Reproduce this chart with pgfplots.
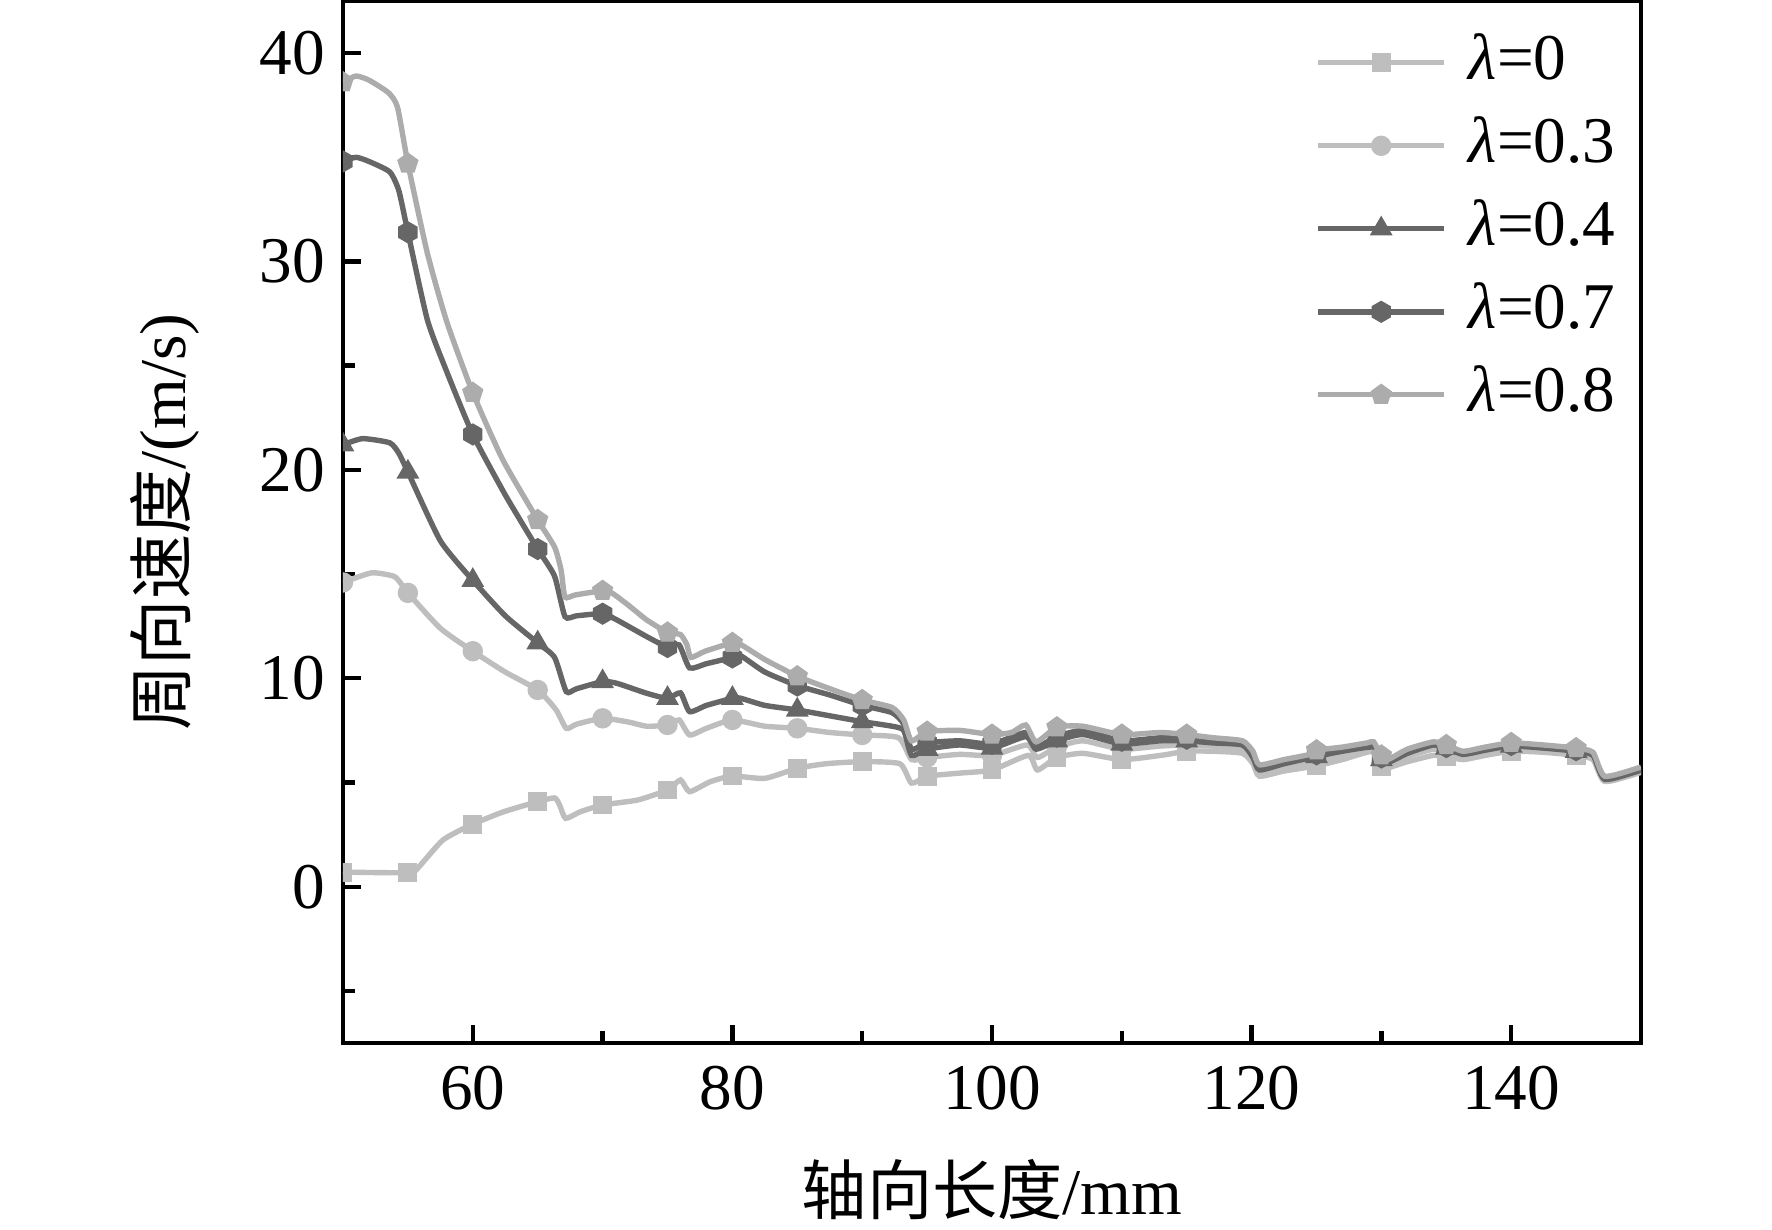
\documentclass[border=0pt]{standalone}
\usepackage{fontspec}
\setmainfont{Liberation Serif}
\newfontfamily\cjk{Noto Sans CJK SC}
\usepackage{pgfplots}
\pgfplotsset{compat=1.18}
\usepackage{pgfplotstable}
\usetikzlibrary{plotmarks}

\pgfdeclareplotmark{hexagon*}{%
  \pgfpathmoveto{\pgfpointpolar{90}{\pgfplotmarksize}}%
  \pgfpathlineto{\pgfpointpolar{150}{\pgfplotmarksize}}%
  \pgfpathlineto{\pgfpointpolar{210}{\pgfplotmarksize}}%
  \pgfpathlineto{\pgfpointpolar{270}{\pgfplotmarksize}}%
  \pgfpathlineto{\pgfpointpolar{330}{\pgfplotmarksize}}%
  \pgfpathlineto{\pgfpointpolar{30}{\pgfplotmarksize}}%
  \pgfpathclose
  \pgfusepathqfillstroke}

\definecolor{lg}{RGB}{190,190,190}
\definecolor{mg}{RGB}{172,172,172}
\definecolor{dg}{RGB}{102,102,102}

% lambda = 0
\pgfplotstableread{
x y
50 0.70
55 0.67
55.7 0.85
57.7 2.24
60 3.00
62.4 3.60
65 4.08
66.3 4.26
66.7 3.90
67.15 3.28
68.3 3.60
70 3.92
72.7 4.16
75 4.64
76 5.12
76.7 4.56
78.3 5.04
80 5.31
82.5 5.20
85 5.68
87.2 5.90
90 6.00
92.9 5.90
93.8 4.97
95 5.30
97.5 5.45
100 5.60
102.8 6.30
103.5 5.60
105 6.20
107 6.40
110 6.10
113 6.30
115 6.50
117 6.50
119.3 6.40
120.1 5.90
120.6 5.30
122.5 5.55
125 5.80
127 6.10
129.4 6.50
130 5.75
130.5 5.70
132 6.00
134 6.30
135 6.25
136.3 6.10
138 6.30
140 6.50
142.5 6.45
145 6.30
146.3 6.10
147.2 5.05
149.8 5.45
150 5.50
}\tA

% lambda = 0.3
\pgfplotstableread{
x y
50 14.60
52.2 15.06
53.9 14.90
54.4 14.60
55 14.10
57.5 12.40
60 11.30
62.5 10.30
65 9.44
66.4 8.50
67.2 7.60
68 7.80
70 8.08
72 7.90
73.4 7.70
75 7.76
75.9 8.00
76.7 7.28
78 7.60
80 8.00
82.5 7.70
85 7.60
87.5 7.40
90 7.28
92.8 7.15
93.8 6.10
95 6.20
97.5 6.35
100 6.30
102.7 6.80
103.5 6.20
105 6.70
107 7.00
110 6.60
113 6.75
115 6.80
117 6.75
119.3 6.60
120.1 6.00
120.6 5.45
122.5 5.75
125 6.00
127 6.30
129.4 6.60
130 5.95
130.5 5.85
132 6.25
134 6.60
135 6.50
136.3 6.25
138 6.45
140 6.65
142.5 6.55
145 6.40
146.3 6.20
147.2 5.10
149.8 5.50
150 5.55
}\tB

% lambda = 0.4
\pgfplotstableread{
x y
50 21.20
51.5 21.50
53.6 21.30
54.3 20.80
55 19.90
57.5 16.60
60 14.70
62.5 13.00
65 11.70
66.3 11.00
67.2 9.36
68 9.50
70 9.84
71.1 9.76
73.4 9.28
75 9.04
76 9.30
76.7 8.40
78 8.70
80 9.04
80.6 9.05
82.5 8.70
85 8.48
87.5 8.20
90 7.92
92.3 7.70
93.2 7.50
93.8 6.30
95 6.60
97.5 6.80
100 6.65
102.6 7.20
103.4 6.60
105 7.00
107 7.30
110 6.85
113 7.00
115 7.00
117 6.90
119.3 6.80
120.1 6.20
120.6 5.60
122.5 5.90
125 6.25
127 6.50
129.4 6.70
130 6.10
130.5 5.95
132 6.40
134 6.80
135 6.65
136.3 6.35
138 6.55
140 6.75
142.5 6.65
145 6.50
146.3 6.30
147.2 5.15
149.8 5.55
150 5.60
}\tC

% lambda = 0.7
\pgfplotstableread{
x y
50 34.80
51 35.00
52 34.80
53.6 34.30
54.3 33.40
55 31.40
56.5 27.20
58 24.70
60 21.70
62.5 18.80
65 16.20
66.3 14.90
67.1 12.96
68 13.00
70 13.10
71.1 12.80
73.4 12.00
75 11.50
75.9 11.60
76.7 10.50
78 10.70
80 11.00
80.6 11.10
82.5 10.30
85 9.65
87.5 9.20
90 8.70
92.3 8.35
93.2 7.80
93.8 6.60
95 6.90
97.5 7.00
100 6.85
102.6 7.40
103.4 6.70
105 7.20
107 7.50
110 7.00
113 7.15
115 7.10
117 7.00
119.3 6.85
120.1 6.30
120.6 5.65
122.5 5.95
125 6.35
127 6.60
129.4 6.80
130 6.20
130.5 6.00
132 6.50
134 6.85
135 6.70
136.3 6.40
138 6.60
140 6.80
142.5 6.70
145 6.55
146.3 6.35
147.2 5.20
149.8 5.60
150 5.65
}\tD

% lambda = 0.8
\pgfplotstableread{
x y
50 38.60
51 38.90
52 38.70
53.5 38.10
54.2 37.40
55 34.70
56.5 30.40
58 27.10
60 23.70
62.3 20.50
65 17.60
66.3 16.30
66.8 15.20
67.1 13.90
67.9 14.00
70 14.20
70.7 14.10
72 13.50
73.4 12.80
75 12.20
76 12.10
76.5 11.60
76.8 11.00
77.9 11.30
80 11.70
80.7 11.60
82.5 10.90
85 10.10
87.5 9.50
90 8.96
92.3 8.60
93.2 8.00
93.8 7.00
95 7.44
97.5 7.50
100 7.30
101.5 7.40
102.6 7.76
103.4 6.95
105 7.65
107 7.70
110 7.30
113 7.40
115 7.30
117 7.15
119.3 7.00
120.1 6.50
120.6 5.85
122.5 6.10
124.5 6.35
125 6.55
127 6.70
128.9 6.90
129.4 6.95
130 6.30
130.5 6.10
132 6.60
134 6.95
135 6.80
136.3 6.50
138 6.70
140 6.90
142.5 6.80
145 6.65
146.3 6.45
147.2 5.30
149.8 5.70
150 5.75
}\tE

\begin{document}
\begin{tikzpicture}
\begin{axis}[
  name=ax, at={(0,0)}, anchor=south west,
  scale only axis, width=324.5pt, height=260.5pt,
  xmin=50, xmax=150, ymin=-7.5, ymax=42.5,
  xtick={60,80,...,140}, ytick={0,10,...,40},
  minor xtick={70,90,110,130}, minor ytick={-5,5,15,25,35},
  tick pos=left, tick align=inside,
  major tick length=4.6pt, minor tick length=3pt,
  every tick/.style={black, line width=1.1pt},
  axis line style={line width=1.2pt},
  font=\fontsize{16.3}{19}\selectfont,
  /pgf/number format/assume math mode=true,
  xticklabel style={yshift=-2.2pt},
  yticklabel style={xshift=-1pt},
  xlabel={{\cjk 轴向长度}/mm},
  ylabel={{\cjk 周向速度}/(m/s)},
  xlabel style={at={(rel axis cs:0.5,-0.1411)}, anchor=center},
  ylabel style={at={(rel axis cs:-0.1371,0.5)}, anchor=center},
  clip marker paths=true,
  every axis plot/.append style={line width=1.35pt},
  legend image code/.code={\draw[mark repeat=2,mark phase=2,#1] plot coordinates {(0pt,0pt) (15.75pt,0pt) (31.5pt,0pt)};},
  legend cell align=left,
  legend style={draw=none, fill=none, at={(0.7486,0.9712)}, anchor=north west,
    inner sep=0pt, row sep=5.25pt,
    nodes={inner sep=0pt, text height=12pt, text depth=3.5pt},
    /tikz/every odd column/.append style={column sep=5.5pt}},
  s0/.style={lg, mark=square*, mark size=2.1pt, mark options={solid, fill=lg, draw=lg, line width=0.5pt}},
  s1/.style={lg, mark=*, mark size=2.3pt, mark options={solid, fill=lg, draw=lg, line width=0.5pt}},
  s2/.style={dg, mark=triangle*, mark size=2.8pt, mark options={solid, fill=dg, draw=dg, line width=0.5pt}},
  s3/.style={dg, mark=hexagon*, mark size=2.5pt, mark options={solid, fill=dg, draw=dg, line width=0.5pt}},
  s4/.style={mg, mark=pentagon*, mark size=2.5pt, mark options={solid, fill=mg, draw=mg, line width=0.5pt}},
  mk/.style={only marks, forget plot, x filter/.expression={(abs(x-5*round(x/5))<0.01 && x<147) ? x : nan}},
  ln/.style={no markers, smooth, tension=0.35, forget plot},
]
\addplot[s0, ln] table {\tA};
\addplot[s0, mk] table {\tA};
\addplot[s1, ln] table {\tB};
\addplot[s1, mk] table {\tB};
\addplot[s2, ln] table {\tC};
\addplot[s2, mk] table {\tC};
\addplot[s3, ln] table {\tD};
\addplot[s3, mk] table {\tD};
\addplot[s4, ln] table {\tE};
\addplot[s4, mk] table {\tE};
\addlegendimage{s0, line width=1.35pt}
\addlegendentry{{\itshape λ}=0}
\addlegendimage{s1, line width=1.35pt}
\addlegendentry{{\itshape λ}=0.3}
\addlegendimage{s2, line width=1.35pt}
\addlegendentry{{\itshape λ}=0.4}
\addlegendimage{s3, line width=1.35pt}
\addlegendentry{{\itshape λ}=0.7}
\addlegendimage{s4, line width=1.35pt}
\addlegendentry{{\itshape λ}=0.8}
\end{axis}
\pgfresetboundingbox
\path ([shift={(-85.75pt,-46.5pt)}]ax.south west) rectangle ([shift={(357.25pt,260.75pt)}]ax.south west);
\end{tikzpicture}
\end{document}
